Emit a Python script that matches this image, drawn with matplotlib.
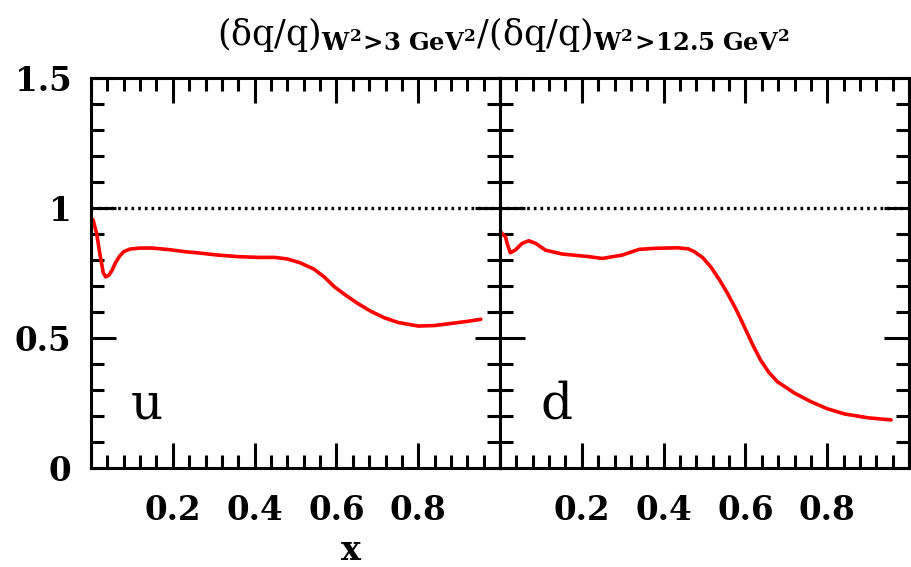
import numpy as np
import matplotlib
matplotlib.use("Agg")
import matplotlib.pyplot as plt
from matplotlib.ticker import MultipleLocator

plt.rcParams['font.family'] = ['DejaVu Serif']
plt.rcParams['mathtext.fontset'] = 'dejavuserif'

# ratio for u quark
x_u = [0.0, 0.005, 0.014, 0.022, 0.030, 0.036, 0.044, 0.052, 0.060, 0.070, 0.080,
       0.095, 0.12, 0.15, 0.19, 0.23, 0.27, 0.31, 0.36, 0.41, 0.45, 0.48, 0.51,
       0.545, 0.57, 0.595, 0.625, 0.652, 0.685, 0.717, 0.75, 0.80, 0.84, 0.88,
       0.92, 0.953]
r_u = [0.96, 0.955, 0.90, 0.82, 0.75, 0.735, 0.742, 0.762, 0.790, 0.815, 0.832,
       0.842, 0.846, 0.846, 0.840, 0.832, 0.826, 0.819, 0.813, 0.810, 0.810, 0.804,
       0.790, 0.765, 0.735, 0.697, 0.662, 0.633, 0.602, 0.578, 0.560, 0.546, 0.548,
       0.556, 0.564, 0.572]

# ratio for d quark
x_d = [0.0, 0.006, 0.013, 0.019, 0.025, 0.037, 0.054, 0.070, 0.087, 0.111, 0.152,
       0.217, 0.25, 0.299, 0.34, 0.38, 0.434, 0.46, 0.475, 0.495, 0.515, 0.536,
       0.556, 0.577, 0.597, 0.617, 0.637, 0.657, 0.678, 0.72, 0.76, 0.80, 0.842,
       0.90, 0.956]
r_d = [0.91, 0.90, 0.89, 0.855, 0.828, 0.838, 0.864, 0.874, 0.864, 0.838, 0.823,
       0.813, 0.806, 0.819, 0.841, 0.845, 0.847, 0.843, 0.832, 0.81, 0.774, 0.725,
       0.672, 0.61, 0.544, 0.476, 0.415, 0.368, 0.332, 0.288, 0.255, 0.228, 0.208,
       0.193, 0.185]

xtick_pos = [0.0, 0.2, 0.4, 0.6, 0.8, 1.0]
xtick_lab = ['', '0.2', '0.4', '0.6', '0.8', '']
ytick_pos = [0.0, 0.5, 1.0, 1.5]
ytick_lab = ['0', '0.5', '1', '1.5']

fig = plt.figure(figsize=(9.12, 5.67), dpi=100)
w = 0.4485
axL = fig.add_axes([0.0998, 0.1746, w, 0.6878])
axR = fig.add_axes([0.0998 + w, 0.1746, w, 0.6878])

for ax, xs, rs, lab in [(axL, x_u, r_u, 'u'), (axR, x_d, r_d, 'd')]:
    ax.plot(xs, rs, color='#ff0000', lw=2.6, solid_capstyle='round')
    ax.axhline(1.0, color='black', lw=2.4, linestyle=(0, (0.8, 1.2)))
    ax.set_xlim(0, 1.0)
    ax.set_ylim(0, 1.5)
    ax.set_xticks(xtick_pos)
    ax.set_xticklabels(xtick_lab)
    ax.xaxis.set_minor_locator(MultipleLocator(0.04))
    ax.set_yticks(ytick_pos)
    ax.yaxis.set_minor_locator(MultipleLocator(0.1))
    ax.tick_params(which='both', direction='in', top=True, right=True, width=2.2,
                   labelsize=23.5)
    ax.tick_params(axis='x', pad=19)
    ax.tick_params(axis='y', pad=14)
    ax.tick_params(which='major', length=18)
    ax.tick_params(which='minor', length=9.5)
    for t in ax.get_xticklabels() + ax.get_yticklabels():
        t.set_fontweight('bold')
    for s in ax.spines.values():
        s.set_linewidth(2.2)
    ax.text(0.137, 0.19, lab, fontsize=36, ha='center', va='baseline')

axL.set_yticklabels(ytick_lab, fontweight='bold')
axR.set_yticklabels([])

fig.text(351 / 912, 1 - 550 / 567, 'x', fontsize=24, fontweight='bold',
         ha='center', va='center')
fig.text(503 / 912, 1 - 35 / 567,
         r'$(\mathrm{\delta q/q})_{\mathbf{W^2\!>\!3\ GeV^2}}/(\mathrm{\delta q/q})_{\mathbf{W^2\!>\!12.5\ GeV^2}}$',
         fontsize=25, ha='center', va='center')

fig.savefig('out.png', dpi=100)
